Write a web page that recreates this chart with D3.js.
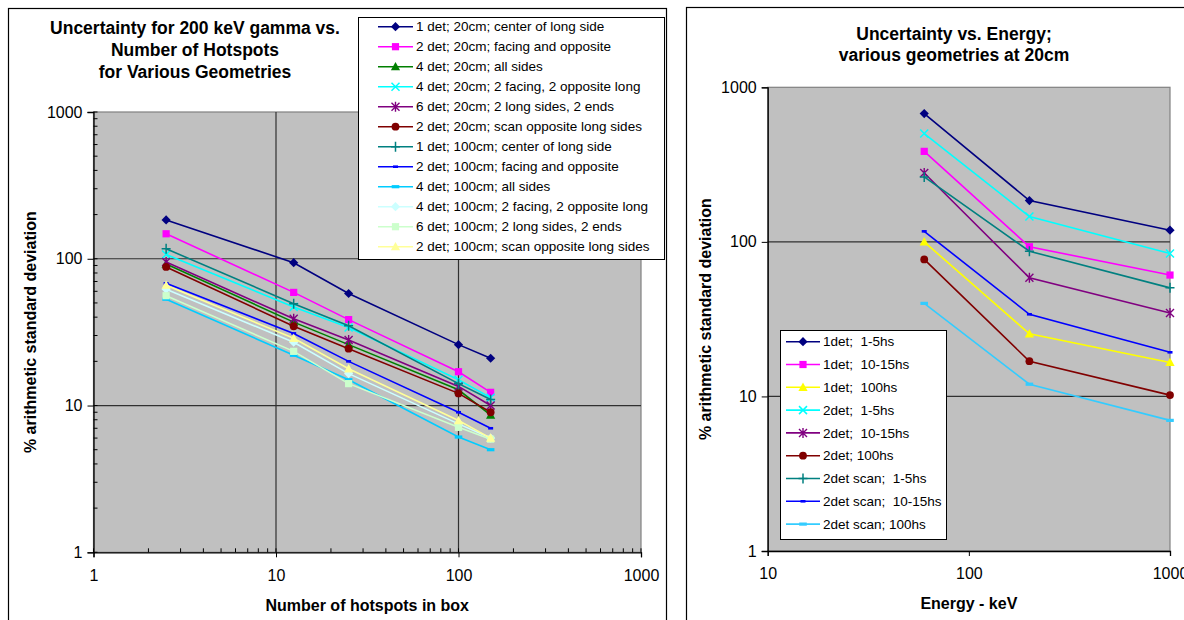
<!DOCTYPE html>
<html><head><meta charset="utf-8">
<script src="https://cdn.jsdelivr.net/npm/d3@7"></script>
<style>
body{margin:0;background:#fff;}
svg{display:block;font-family:"Liberation Sans",Arial,sans-serif;}
text{white-space:pre;}
</style></head>
<body>
<svg id="chart" width="1184" height="620"></svg>
<script>
// ---------- Left chart data ----------
const hotspots = [2.5, 12.5, 25, 100, 150];
const leftNames = [
  "1 det; 20cm; center of long side",
  "2 det; 20cm; facing and opposite",
  "4 det; 20cm; all sides",
  "4 det; 20cm; 2 facing, 2 opposite long",
  "6 det; 20cm; 2 long sides, 2 ends",
  "2 det; 20cm; scan opposite long sides",
  "1 det; 100cm; center of long side",
  "2 det; 100cm; facing and opposite",
  "4 det; 100cm; all sides",
  "4 det; 100cm; 2 facing, 2 opposite long",
  "6 det; 100cm; 2 long sides, 2 ends",
  "2 det; 100cm; scan opposite long sides"
];
const det1_20 = [184, 94, 58, 26, 21];
const det2_20 = [148, 59, 38.5, 17, 12.3];
const det4_20 = [92, 37, 26, 12.8, 8.6];
const det4f_20 = [107, 47, 34, 15, 11.3];
const det6_20 = [95, 39, 28, 13.5, 10];
const det2s_20 = [88, 34.7, 24.4, 12.1, 9];
const det1_100 = [117, 49.4, 35, 14.1, 11];
const det2_100 = [68, 31, 20, 9, 7];
const det4_100 = [53, 22, 15, 6.1, 5];
const det4f_100 = [62, 27, 16.5, 7.5, 6];
const det6_100 = [56, 23.4, 14.1, 7.1, 5.9];
const det2s_100 = [66, 28.7, 17.8, 7.9, 6];
const leftSeriesValues = [det1_20, det2_20, det4_20, det4f_20, det6_20, det2s_20,
  det1_100, det2_100, det4_100, det4f_100, det6_100, det2s_100];
const leftColors = ["#000080","#FF00FF","#008000","#00FFFF","#800080","#800000",
  "#008080","#0000FF","#00CCFF","#CCFFFF","#CCFFCC","#FFFF99"];
const leftMarkers = ["diamond","square","triangle","x","star","circle",
  "plus","dashSmall","dash","diamond","square","triangle"];

// ---------- Right chart data ----------
const energies = [60, 200, 1000];
const rightNames = ["1det;  1-5hs","1det;  10-15hs","1det;  100hs","2det;  1-5hs",
  "2det;  10-15hs","2det; 100hs","2det scan;  1-5hs","2det scan;  10-15hs","2det scan; 100hs"];
const e1det_1_5 = [676, 185, 119];
const e1det_10_15 = [385, 93, 61];
const e1det_100 = [100, 25.4, 16.6];
const e2det_1_5 = [502, 146, 84];
const e2det_10_15 = [279, 58.5, 34.7];
const e2det_100 = [77, 16.9, 10.2];
const e2scan_1_5 = [263, 87, 50.4];
const e2scan_10_15 = [117, 34, 19.3];
const e2scan_100 = [40, 12, 7];
const rightSeriesValues = [e1det_1_5, e1det_10_15, e1det_100, e2det_1_5, e2det_10_15,
  e2det_100, e2scan_1_5, e2scan_10_15, e2scan_100];
const rightColors = ["#000080","#FF00FF","#FFFF00","#00FFFF","#800080","#800000",
  "#008080","#0000FF","#33CCFF"];
const rightMarkers = ["diamond","square","triangle","x","star","circle","plus","dashSmall","dash"];

const logTicks = [1, 10, 100, 1000];
const energyTicks = [10, 100, 1000];

// ---------- helpers ----------
const svg = d3.select("#chart");
svg.append("rect").attr("width",1184).attr("height",620).attr("fill","#fff");

function drawMarker(g, type, color, x, y) {
  const m = g.append("g").attr("transform", `translate(${x},${y})`);
  switch (type) {
    case "diamond": m.append("path").attr("d","M0,-4.6L4.6,0L0,4.6L-4.6,0Z").attr("fill",color); break;
    case "square": m.append("rect").attr("x",-3.6).attr("y",-3.6).attr("width",7.2).attr("height",7.2).attr("fill",color); break;
    case "triangle": m.append("path").attr("d","M0,-4.8L4.6,3.6L-4.6,3.6Z").attr("fill",color); break;
    case "circle": m.append("circle").attr("r",3.9).attr("fill",color); break;
    case "x": m.append("path").attr("d","M-4,-4L4,4M-4,4L4,-4").attr("stroke",color).attr("stroke-width",1.5).attr("fill","none"); break;
    case "star": m.append("path").attr("d","M-4,-4L4,4M-4,4L4,-4M0,-5L0,5").attr("stroke",color).attr("stroke-width",1.4).attr("fill","none"); break;
    case "plus": m.append("path").attr("d","M-4.5,0L4.5,0M0,-5L0,5").attr("stroke",color).attr("stroke-width",1.5).attr("fill","none"); break;
    case "dashSmall": m.append("rect").attr("x",-2.5).attr("y",-1.3).attr("width",5).attr("height",2.6).attr("fill",color); break;
    case "dash": m.append("rect").attr("x",-3.8).attr("y",-1.6).attr("width",7.6).attr("height",3.2).attr("fill",color); break;
  }
}

function drawChart(cfg) {
  const g = svg.append("g");
  const x = d3.scaleLog().domain(cfg.xDomain).range(cfg.xRange);
  const y = d3.scaleLog().domain([1,1000]).range(cfg.yRange);
  const [x0,x1] = cfg.xRange, [y1,y0] = cfg.yRange;
  // plot background
  g.append("rect").attr("x",x0).attr("y",y0).attr("width",x1-x0).attr("height",y1-y0)
    .attr("fill","#C0C0C0").attr("stroke","#808080").attr("stroke-width",1.2);
  // gridlines
  [10,100].forEach(v=>{
    g.append("line").attr("x1",x0).attr("x2",x1).attr("y1",y(v)).attr("y2",y(v))
      .attr("stroke","#303030").attr("stroke-width",1.2);
  });
  if (cfg.vGrid) cfg.vGrid.forEach(v=>{
    g.append("line").attr("x1",x(v)).attr("x2",x(v)).attr("y1",y0).attr("y2",y1)
      .attr("stroke","#303030").attr("stroke-width",1.2);
  });
  // axes
  const yAxis = d3.axisLeft(y).tickValues(logTicks).tickFormat(d3.format("d")).tickSize(6).tickPadding(5);
  const xAxis = d3.axisBottom(x).tickValues(cfg.xTicks).tickFormat(d3.format("d")).tickSize(5).tickPadding(12);
  const ya = g.append("g").attr("transform",`translate(${x0},0)`).call(yAxis);
  const xa = g.append("g").attr("transform",`translate(0,${y1})`).call(xAxis);
  [ya,xa].forEach(a=>{
    a.select(".domain").attr("stroke","#000").attr("stroke-width",1.3);
    a.selectAll(".tick line").attr("stroke","#000");
    a.selectAll("text").attr("font-size",16).attr("fill","#000").attr("font-family","Liberation Sans, Arial, sans-serif");
  });
  if (cfg.minor) {
    const minorY = [], minorX = [];
    [1,10,100].forEach(d=>{ for(let k=2;k<=9;k++){ minorY.push(d*k); } });
    [1,10,100].forEach(d=>{ for(let k=2;k<=9;k++){ minorX.push(d*k); } });
    minorY.forEach(v=>g.append("line").attr("x1",x0).attr("x2",x0+4).attr("y1",y(v)).attr("y2",y(v)).attr("stroke","#000"));
    minorX.forEach(v=>g.append("line").attr("y1",y1).attr("y2",y1-4).attr("x1",x(v)).attr("x2",x(v)).attr("stroke","#000"));
    logTicks.forEach(v=>g.append("line").attr("x1",x0).attr("x2",x0+4).attr("y1",y(v)).attr("y2",y(v)).attr("stroke","#000"));
    cfg.xTicks.forEach(v=>g.append("line").attr("y1",y1).attr("y2",y1-4).attr("x1",x(v)).attr("x2",x(v)).attr("stroke","#000"));
  }
  // series
  const line = d3.line().x(d=>x(d[0])).y(d=>y(d[1]));
  cfg.values.forEach((vals,i)=>{
    const pts = cfg.xs.map((xv,j)=>[xv, vals[j]]);
    g.append("path").attr("d",line(pts)).attr("fill","none")
      .attr("stroke",cfg.colors[i]).attr("stroke-width",1.6);
    pts.forEach(p=>drawMarker(g, cfg.markers[i], cfg.colors[i], x(p[0]), y(p[1])));
  });
  // titles
  cfg.title.forEach((t,i)=>{
    g.append("text").attr("x",cfg.titleX).attr("y",cfg.titleY + i*cfg.titleStep)
      .attr("text-anchor","middle").attr("font-weight","bold").attr("font-size",17.5).text(t);
  });
  g.append("text").attr("x",(x0+x1)/2).attr("y",cfg.xTitleY).attr("text-anchor","middle")
    .attr("font-weight","bold").attr("font-size",16).text(cfg.xTitle);
  g.append("text").attr("transform",`translate(${cfg.yTitleX},${(y0+y1)/2}) rotate(-90)`)
    .attr("text-anchor","middle").attr("font-weight","bold").attr("font-size",16).text(cfg.yTitle);
  // legend
  const L = cfg.legend;
  g.append("rect").attr("x",L.x).attr("y",L.y).attr("width",L.w).attr("height",L.h)
    .attr("fill","#fff").attr("stroke","#000").attr("stroke-width",1);
  cfg.names.forEach((n,i)=>{
    const cy = L.first + i*L.step;
    g.append("line").attr("x1",L.lx1).attr("x2",L.lx2).attr("y1",cy).attr("y2",cy)
      .attr("stroke",cfg.colors[i]).attr("stroke-width",1.6);
    drawMarker(g, cfg.markers[i], cfg.colors[i], (L.lx1+L.lx2)/2, cy);
    g.append("text").attr("x",L.tx).attr("y",cy).attr("dy","0.35em").attr("font-size",13.5).text(n);
  });
}

// outer borders
svg.append("rect").attr("x",8.5).attr("y",8.5).attr("width",658).attr("height",640)
  .attr("fill","none").attr("stroke","#000").attr("stroke-width",1.2);
svg.append("rect").attr("x",686.5).attr("y",7.5).attr("width",520).attr("height",640)
  .attr("fill","none").attr("stroke","#000").attr("stroke-width",1.2);

drawChart({
  xDomain:[1,1000], xRange:[93.5,641], yRange:[552.3,112],
  xTicks:[1,10,100,1000], vGrid:[10,100], minor:true,
  xs:hotspots, values:leftSeriesValues, colors:leftColors, markers:leftMarkers, names:leftNames,
  title:["Uncertainty for 200 keV gamma vs.","Number of Hotspots","for Various Geometries"],
  titleX:195, titleY:34, titleStep:21.8,
  xTitle:"Number of hotspots in box", xTitleY:611,
  yTitle:"% arithmetic standard deviation", yTitleX:36,
  legend:{x:358.5,y:17.5,w:306,h:242,first:26.7,step:20,lx1:378,lx2:413,tx:416}
});

drawChart({
  xDomain:[10,1000], xRange:[767.7,1170], yRange:[551,87.3],
  xTicks:energyTicks, vGrid:null, minor:false,
  xs:energies, values:rightSeriesValues, colors:rightColors, markers:rightMarkers, names:rightNames,
  title:["Uncertainty vs. Energy;","various geometries at 20cm"],
  titleX:954, titleY:39.5, titleStep:21.7,
  xTitle:"Energy - keV", xTitleY:609,
  yTitle:"% arithmetic standard deviation", yTitleX:711,
  legend:{x:780.5,y:330.5,w:166,h:209,first:341.7,step:22.8,lx1:786,lx2:820,tx:823}
});
</script>
</body></html>
